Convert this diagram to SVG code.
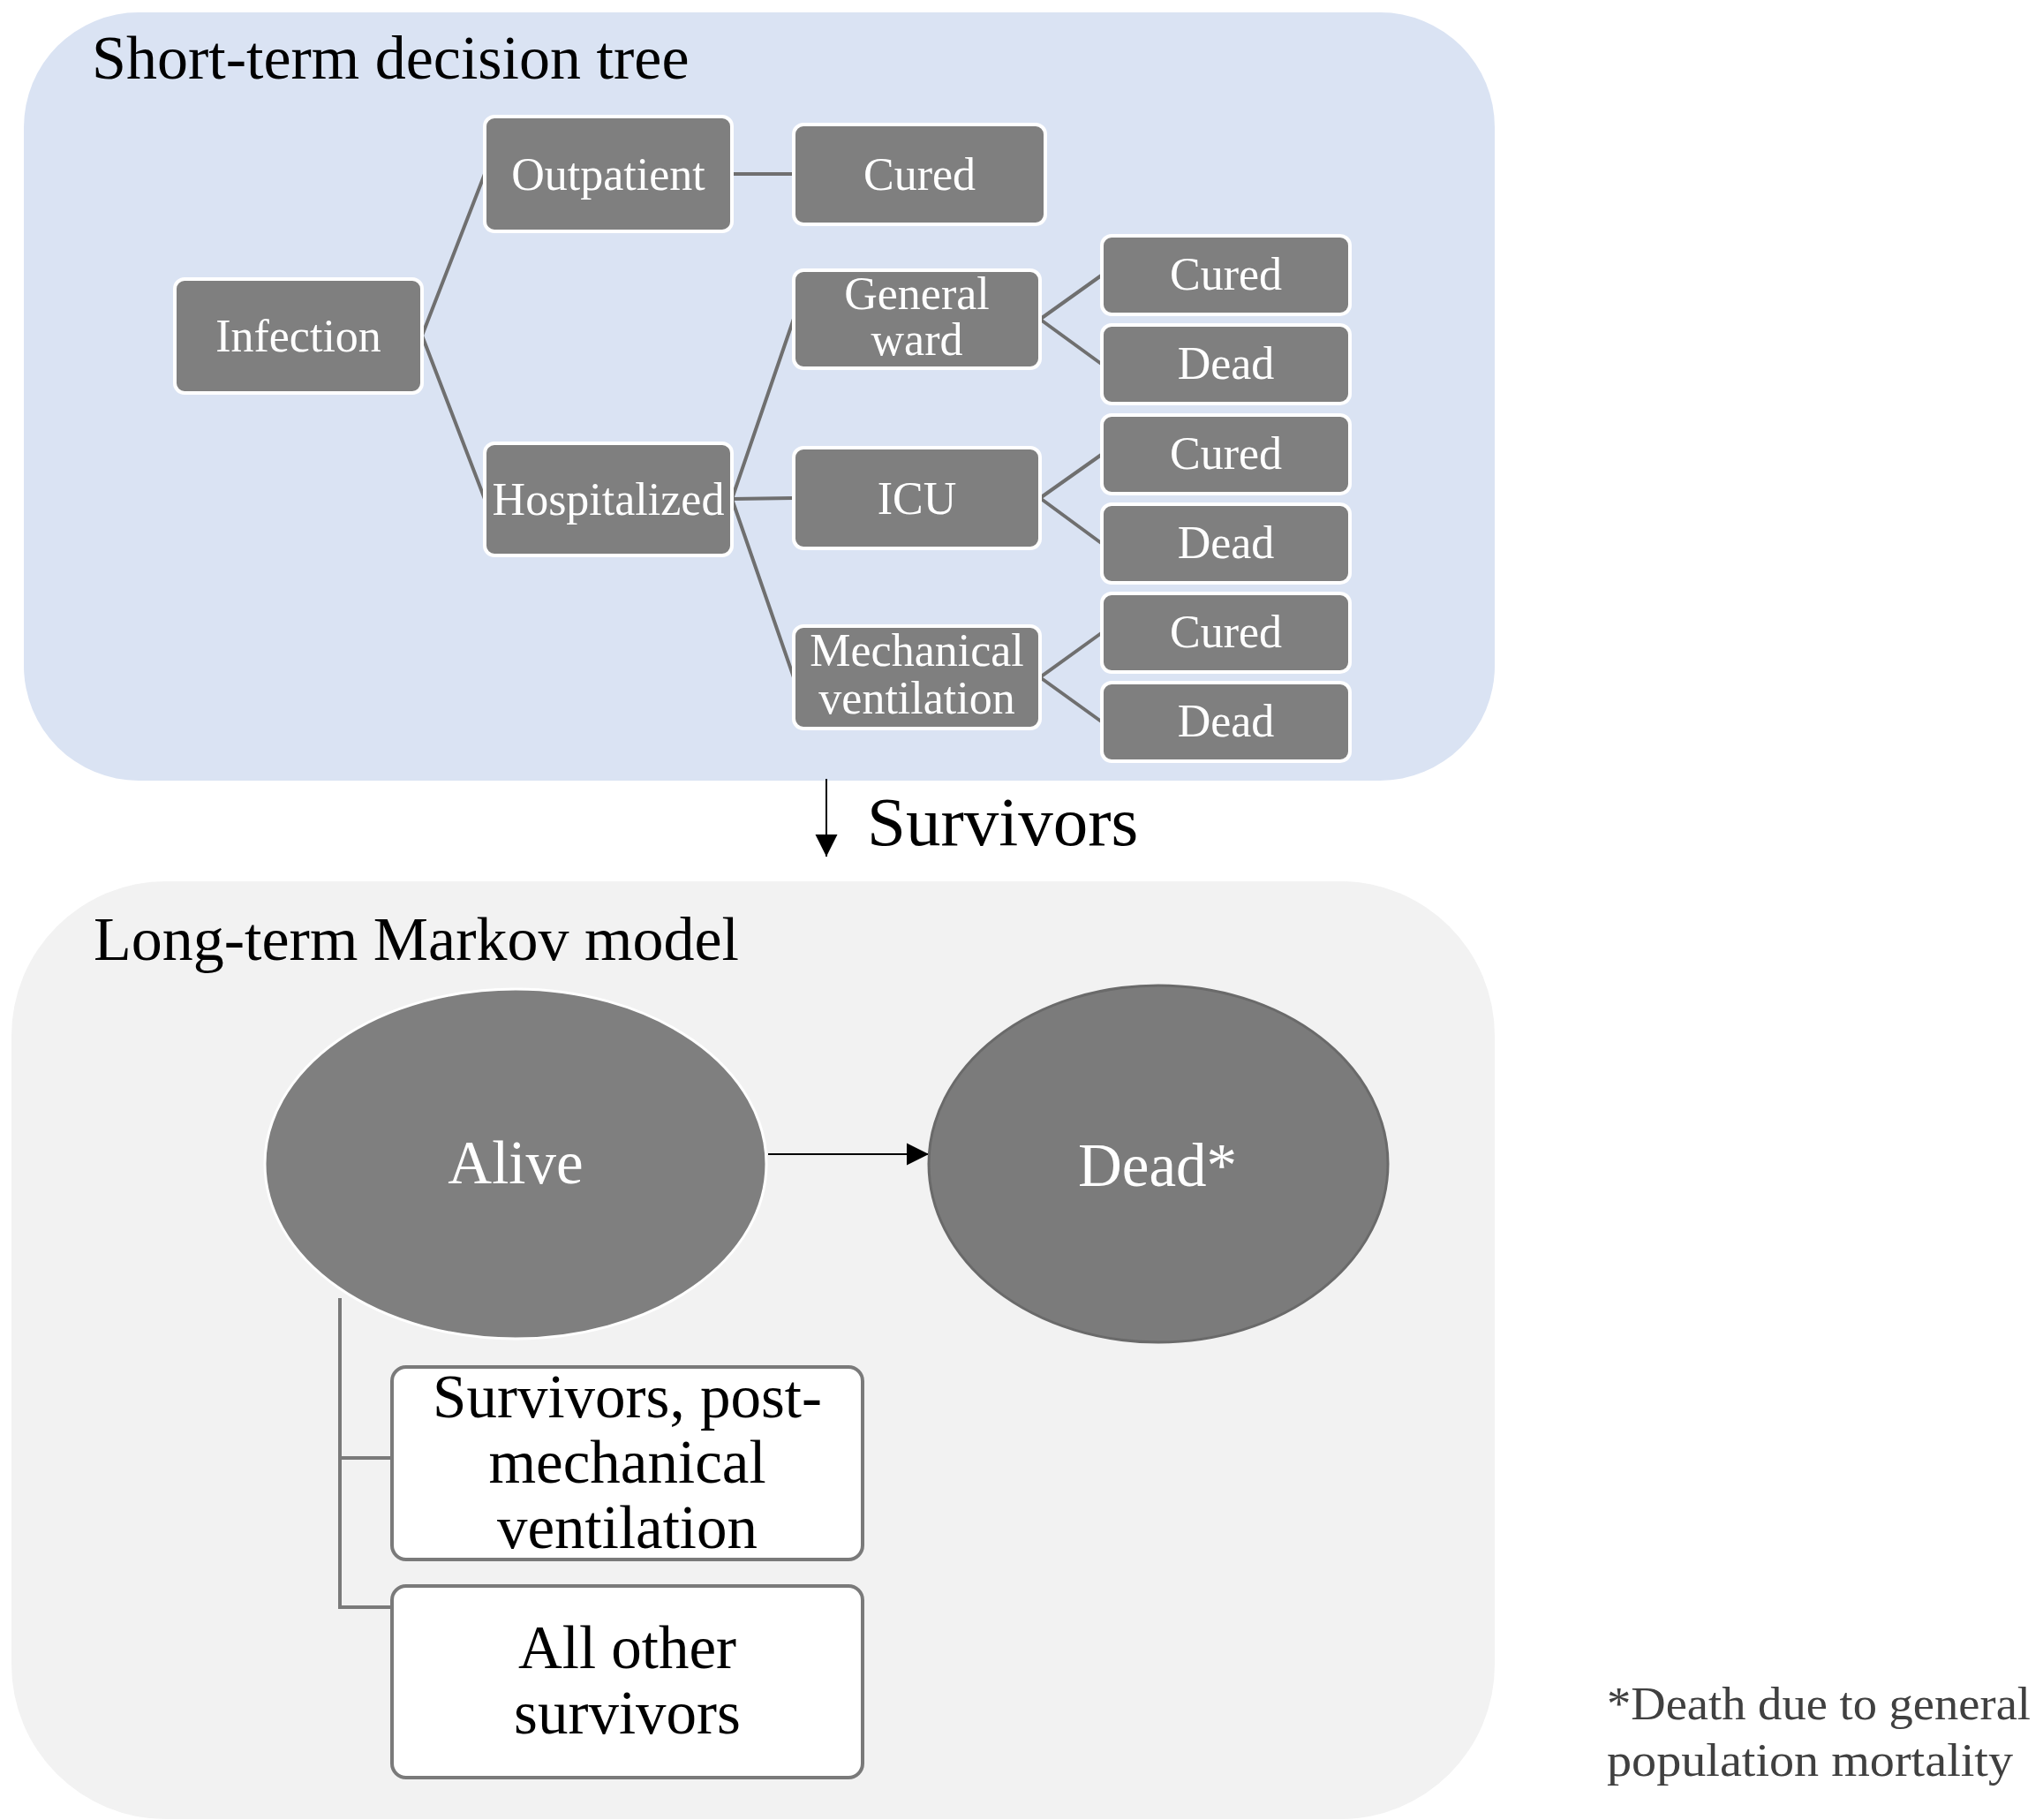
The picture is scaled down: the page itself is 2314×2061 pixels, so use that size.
<svg xmlns="http://www.w3.org/2000/svg" width="2314" height="2061" viewBox="0 0 2314 2061">
<style>
.panel-top{fill:#DAE3F3}
.panel-bot{fill:#F2F2F2}
.title{font-family:"Liberation Serif","Times New Roman",serif;font-size:70px;fill:#000}
.box{fill:#7F7F7F;stroke:#FFFFFF;stroke-width:4}
.btxt{font-family:"Liberation Serif","Times New Roman",serif;font-size:52px;fill:#FFFFFF;text-anchor:middle}
.tree{stroke:#6F6F6F;stroke-width:4;fill:none}
.brk{stroke:#7A7A7A;stroke-width:4;fill:none}
.arr{stroke:#000;stroke-width:2;fill:none}
.ell-txt{font-family:"Liberation Serif","Times New Roman",serif;font-size:69px;fill:#FFFFFF;text-anchor:middle}
.wbox{fill:#FFFFFF;stroke:#7A7A7A;stroke-width:4}
.wtxt{font-family:"Liberation Serif","Times New Roman",serif;font-size:69px;fill:#000;text-anchor:middle}
.note{font-family:"Liberation Serif","Times New Roman",serif;font-size:52px;fill:#404040}
</style>
<defs>
<marker id="ah" viewBox="0 0 10 10" refX="10" refY="5" markerWidth="25" markerHeight="26" markerUnits="userSpaceOnUse" orient="auto">
<path d="M0,0 L10,5 L0,10 Z" fill="#000"/>
</marker>
</defs>
<rect width="2314" height="2061" fill="#FFFFFF"/>
<g id="panel-short">
<rect class="panel-top" x="27" y="14" width="1666" height="870" rx="130" ry="130"/>
<text class="title" x="104" y="89">Short-term decision tree</text>
</g>
<g id="panel-long">
<rect class="panel-bot" x="13" y="998" width="1680" height="1062" rx="175" ry="175"/>
<text class="title" x="106" y="1087">Long-term Markov model</text>
</g>
<g id="connectors">
<path class="tree" d="M478,380 L549,197 M478,380 L549,565"/>
<path class="tree" d="M829,197 L899,197"/>
<path class="tree" d="M829,565 L899,361 M829,565 L899,564 M829,565 L899,767"/>
<path class="tree" d="M1178,361.5 L1248,311.5 M1178,361.5 L1248,412.5"/>
<path class="tree" d="M1178,564 L1248,514.5 M1178,564 L1248,615.5"/>
<path class="tree" d="M1178,767 L1248,716.5 M1178,767 L1248,817.5"/>
<line class="arr" x1="936" y1="882" x2="936" y2="970" marker-end="url(#ah)"/>
<line class="arr" x1="870" y1="1307" x2="1052" y2="1307" marker-end="url(#ah)"/>
<path class="brk" d="M385,1470 L385,1820 L458,1820 M385,1651 L458,1651"/>
</g>
<g id="survivors-label">
<text class="title" x="982" y="957" style="font-size:79px">Survivors</text>
</g>
<g id="infection"><rect class="box" x="198" y="316" width="280" height="129" rx="11"/><text class="btxt" x="338" y="398">Infection</text></g>
<g id="outpatient"><rect class="box" x="549" y="132" width="280" height="130" rx="11"/><text class="btxt" x="689" y="215">Outpatient</text></g>
<g id="cured-out"><rect class="box" x="899" y="141" width="285" height="113" rx="11"/><text class="btxt" x="1041.5" y="215">Cured</text></g>
<g id="hospitalized"><rect class="box" x="549" y="502" width="280" height="127" rx="11"/><text class="btxt" x="689" y="583">Hospitalized</text></g>
<g id="general-ward"><rect class="box" x="899" y="306" width="279" height="111" rx="11"/><text class="btxt" x="1038.5" y="350">General</text><text class="btxt" x="1038.5" y="402">ward</text></g>
<g id="icu"><rect class="box" x="899" y="507" width="279" height="114" rx="11"/><text class="btxt" x="1038.5" y="582">ICU</text></g>
<g id="mech-vent"><rect class="box" x="899" y="709" width="279" height="116" rx="11"/><text class="btxt" x="1038.5" y="754">Mechanical</text><text class="btxt" x="1038.5" y="808">ventilation</text></g>
<g id="gw-cured"><rect class="box" x="1248" y="267" width="281" height="89" rx="11"/><text class="btxt" x="1388.5" y="328">Cured</text></g>
<g id="gw-dead"><rect class="box" x="1248" y="368" width="281" height="89" rx="11"/><text class="btxt" x="1388.5" y="429">Dead</text></g>
<g id="icu-cured"><rect class="box" x="1248" y="470" width="281" height="89" rx="11"/><text class="btxt" x="1388.5" y="531">Cured</text></g>
<g id="icu-dead"><rect class="box" x="1248" y="571" width="281" height="89" rx="11"/><text class="btxt" x="1388.5" y="632">Dead</text></g>
<g id="mv-cured"><rect class="box" x="1248" y="672" width="281" height="89" rx="11"/><text class="btxt" x="1388.5" y="733">Cured</text></g>
<g id="mv-dead"><rect class="box" x="1248" y="773" width="281" height="89" rx="11"/><text class="btxt" x="1388.5" y="834">Dead</text></g>
<g id="alive"><ellipse cx="584" cy="1318" rx="284" ry="198" fill="#7F7F7F" stroke="#FFFFFF" stroke-width="3"/><text class="ell-txt" x="584" y="1340">Alive</text></g>
<g id="dead-star"><ellipse cx="1312" cy="1318" rx="260" ry="202" fill="#7B7B7B" stroke="#6A6A6A" stroke-width="3"/><text class="ell-txt" x="1311" y="1343">Dead*</text></g>
<g id="survivors-mv"><rect class="wbox" x="444" y="1548" width="533" height="218" rx="16"/><text class="wtxt" x="710.5" y="1605">Survivors, post-</text><text class="wtxt" x="710.5" y="1679">mechanical</text><text class="wtxt" x="710.5" y="1753">ventilation</text></g>
<g id="all-other"><rect class="wbox" x="444" y="1796" width="533" height="217" rx="16"/><text class="wtxt" x="710.5" y="1889">All other</text><text class="wtxt" x="710.5" y="1963">survivors</text></g>
<g id="footnote">
<text class="note" x="1820" y="1947" textLength="480" lengthAdjust="spacingAndGlyphs">*Death due to general</text>
<text class="note" x="1820" y="2011" textLength="460" lengthAdjust="spacingAndGlyphs">population mortality</text>
</g>
</svg>
